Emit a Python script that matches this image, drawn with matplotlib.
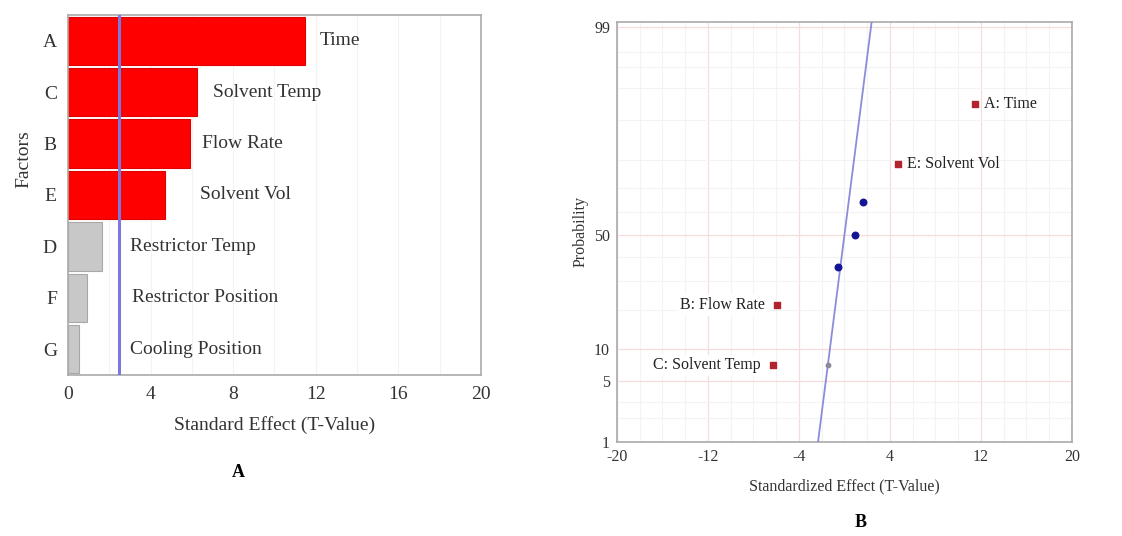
from statistics import NormalDist

import matplotlib
matplotlib.use("Agg")
import matplotlib.pyplot as plt
import numpy as np

plt.rcParams["font.family"] = ["Liberation Serif", "DejaVu Serif"]

# Факторы и стандартизованные эффекты (со знаком)
factors = ["A", "B", "C", "D", "E", "F", "G"]
names = ["Time", "Flow Rate", "Solvent Temp", "Restrictor Temp",
         "Solvent Vol", "Restrictor Position", "Cooling Position"]
effects = [11.46, -5.92, -6.26, 1.65, 4.71, 0.92, -0.53]
t_crit = 2.45
significant = ["A", "B", "C", "E"]

# Порядок для диаграммы Парето
pareto_order = ["A", "C", "B", "E", "D", "F", "G"]
label_x = [12.2, 7.0, 6.5, 6.4, 3.0, 3.1, 3.0]

prob_ticks = [1, 5, 10, 50, 99]
prob_minor = [2, 3, 20, 30, 40, 60, 70, 80, 90, 95, 97, 98]
x_ticks_a = [0, 4, 8, 12, 16, 20]
x_ticks_b = [-20, -12, -4, 4, 12, 20]

nd = NormalDist()
fig = plt.figure(figsize=(11.22, 5.36), dpi=100)

# ---- A: диаграмма Парето ----
ax1 = fig.add_axes([0.0606, 0.3004, 0.3681, 0.6716])
idx = [factors.index(f) for f in pareto_order]
vals = [abs(effects[i]) for i in idx]
ypos = np.arange(len(pareto_order))
colors = ["#ff0000" if f in significant else "#c8c8c8" for f in pareto_order]
edges = ["#e00000" if f in significant else "#a8a8a8" for f in pareto_order]
ax1.barh(ypos, vals, height=0.94, color=colors, edgecolor=edges, linewidth=0.8, zorder=2)
ax1.axvline(t_crit, color="#7b78e0", lw=2.2, zorder=3)
for y, i, lx in zip(ypos, idx, label_x):
    ax1.text(lx, y, names[i], fontsize=14, va="center", ha="left", color="#333333")
ax1.set_xlim(0, 20)
ax1.set_ylim(len(pareto_order) - 0.5, -0.5)
ax1.set_yticks(ypos)
ax1.set_yticklabels(pareto_order, fontsize=14)
ax1.set_xticks(x_ticks_a)
ax1.set_xticklabels([str(v) for v in x_ticks_a], fontsize=14)
ax1.set_xticks(np.arange(0, 20, 2), minor=True)
ax1.grid(axis="x", which="both", color="#f3f3f3", lw=0.8, zorder=0)
ax1.tick_params(which="both", length=0, pad=8, colors="#333333")
ax1.set_xlabel("Standard Effect (T-Value)", fontsize=14, color="#333333", labelpad=9)
ax1.set_ylabel("Factors", fontsize=14, color="#333333")
ax1.yaxis.set_label_coords(-0.085, 0.6)
for s in ax1.spines.values():
    s.set_color("#aaaaaa")
    s.set_linewidth(1.2)
fig.text(0.212, 0.118, "A", fontsize=13, fontweight="bold", ha="center", va="center")

# ---- B: нормальный вероятностный график ----
ax2 = fig.add_axes([0.5499, 0.1754, 0.4055, 0.7836])
order = np.argsort(effects)
n = len(effects)
z_pts = [nd.inv_cdf((k + 0.5) / n) for k in range(n)]
z_lo, z_hi = nd.inv_cdf(0.01), nd.inv_cdf(0.99) + 0.06

# Опорная линия: эффект = z
z_line = np.array([z_lo, z_hi])
ax2.plot(z_line, z_line, color="#8c8cd8", lw=1.3, zorder=3)
# точка на линии для нижнего ранга
ax2.scatter(z_pts[0], z_pts[0], marker="o", s=10, color="#8a8a9a", zorder=4)

for k, i in enumerate(order):
    x, z = effects[i], z_pts[k]
    f = factors[i]
    if f not in significant:
        ax2.scatter(x, z, marker="o", s=22, color="#141496", zorder=4)
        continue
    ax2.scatter(x, z, marker="s", s=20, color="#b3232e", zorder=4)
    label = f"{f}: {names[i]}"
    if x > 0:
        ax2.text(x + 0.8, z, label, fontsize=11.5, va="center", ha="left", color="#222222")
    else:
        ax2.text(x - 1.1, z, label, fontsize=11.5, va="center", ha="right", color="#222222",
                 bbox=dict(facecolor="white", edgecolor="none", pad=2))

ax2.set_xlim(-20, 20)
ax2.set_ylim(z_lo, z_hi)
ax2.set_xticks(x_ticks_b)
ax2.set_xticklabels([str(v) for v in x_ticks_b], fontsize=11.5)
ax2.set_yticks([nd.inv_cdf(p / 100) for p in prob_ticks])
ax2.set_yticklabels([str(p) for p in prob_ticks], fontsize=11.5)
ax2.set_xticks(np.arange(-20, 21, 2), minor=True)
ax2.set_yticks([nd.inv_cdf(p / 100) for p in prob_minor], minor=True)
ax2.grid(which="minor", color="#f3f3f3", lw=0.8, zorder=0)
ax2.grid(which="major", color="#f6dcdc", lw=0.9, zorder=1)
ax2.tick_params(which="both", length=0, pad=5, colors="#333333")
ax2.set_xlabel("Standardized Effect (T-Value)", fontsize=11.5, color="#333333", labelpad=10)
ax2.set_ylabel("Probability", fontsize=11.5, color="#333333", labelpad=4)
for s in ax2.spines.values():
    s.set_color("#aaaaaa")
    s.set_linewidth(1.2)
fig.text(0.767, 0.026, "B", fontsize=13, fontweight="bold", ha="center", va="center")

fig.savefig("out.png", dpi=100, facecolor="white")
